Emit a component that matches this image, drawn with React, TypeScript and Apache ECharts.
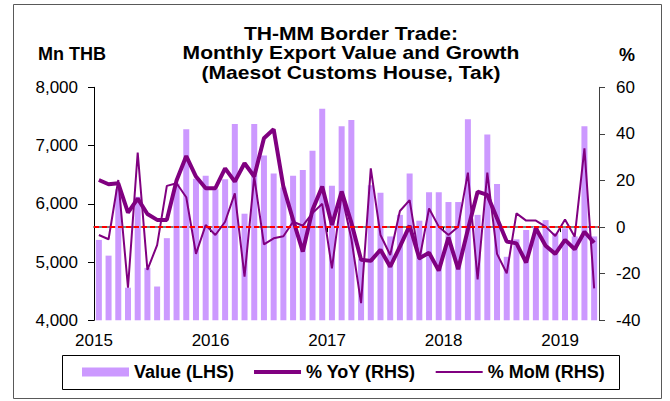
import React, { useEffect, useRef } from "react";
import * as echarts from "echarts";

const months: string[] = [];
for (let y = 2015; y <= 2019; y++) {
  for (let m = 1; m <= 12; m++) {
    if (y === 2019 && m > 4) break;
    months.push(`${y}-${String(m).padStart(2, "0")}`);
  }
}

const yearTicks = ["2015", "2016", "2017", "2018", "2019"];

const valueLHS = [
  5380, 5110, 6250, 4560, 6120, 4900, 4580, 5410, 6350, 7280, 6430, 6480,
  6250, 6420, 7370, 5830, 7370, 6830, 6520, 6280, 6480, 6580, 6910, 7630,
  6310, 7330, 7440, 5050, 6320, 6190, 5440, 5810, 6520, 5710, 6200, 6200,
  6030, 6030, 7450, 5810, 7190, 6340, 5090, 5390, 5550, 5610, 5720, 5500,
  5580, 5440, 7330, 5440,
];

const yoyRHS = [
  20.2, 18.4, 18.8, 6.2, 12.2, 5.6, 3.1, 3.1, 20.0, 30.5, 21.7, 16.7,
  16.7, 25.2, 19.5, 27.4, 21.7, 38.1, 42.0, 17.4, 3.1, -10.5, 7.4, 17.4,
  0.9, 15.3, 1.9, -14.0, -14.5, -9.7, -17.0, -8.4, 0.6, -13.4, -11.0, -18.7,
  -4.4, -18.1, -1.0, 15.2, 13.8, 3.8, -6.2, -7.0, -15.2, -0.5, -8.0, -11.5,
  -5.5, -9.5, -2.0, -6.7,
];

const momRHS = [
  -3.4, -5.2, 20.2, -26.0, 32.0, -18.4, -7.7, 17.7, 18.8, 12.8, -11.5, 0.9,
  -3.4, 2.3, 14.5, -21.3, 21.7, -7.4, -4.8, -3.9, 2.3, 0.6, 6.0, 10.0,
  -17.7, 14.0, -5.0, -32.6, 25.2, -3.4, -12.0, 6.9, 11.6, -14.1, 8.0, 0.2,
  -3.4, 0.2, 23.4, -22.4, 23.4, -11.5, -19.8, 5.9, 2.8, 2.8, 0.2, -3.8,
  3.3, -4.1, 33.8, -26.3,
];

const titleLines = [
  "TH-MM Border Trade:",
  "Monthly Export Value and Growth",
  "(Maesot Customs House, Tak)",
];

const FONT = "'Liberation Sans', Arial, sans-serif";

export default function App() {
  const ref = useRef<HTMLDivElement>(null);

  useEffect(() => {
    document.body.style.margin = "0";
    if (!ref.current) return;
    const chart = echarts.init(ref.current, null, { renderer: "svg" });

    const xy = (arr: number[]) => arr.map((v, i) => [i + 0.5, v]);

    const option: any = {
      animation: false,
      backgroundColor: "#ffffff",
      textStyle: { fontFamily: FONT },
      grid: {
        left: 94,
        right: 71,
        top: 87.3,
        bottom: 80.7,
        containLabel: false,
        outerBoundsMode: "none",
      },
      legend: {
        left: 82,
        top: 363,
        padding: 0,
        itemWidth: 47,
        itemHeight: 9,
        itemGap: 20,
        symbolKeepAspect: true,
        textStyle: {
          fontFamily: FONT,
          fontSize: 18,
          fontWeight: "bold",
          color: "#000",
        },
        data: [
          { name: "Value (LHS)", icon: "rect" },
          { name: "% YoY (RHS)", icon: "path://M0,0H47V4H0Z" },
          { name: "% MoM (RHS)", icon: "path://M0,0H47V2H0Z" },
        ],
      },
      xAxis: {
        type: "value",
        min: 0,
        max: months.length,
        interval: 12,
        splitLine: { show: false },
        axisLine: { show: true, lineStyle: { color: "#7f7f7f", width: 2 } },
        axisTick: {
          show: true,
          length: 5,
          lineStyle: { color: "#000", width: 1 },
        },
        axisLabel: {
          margin: 12,
          fontFamily: FONT,
          fontSize: 17,
          color: "#000",
          showMaxLabel: false,
          formatter: (v: number) => {
            const k = Math.round(v / 12);
            return Math.abs(v - k * 12) < 1e-6 && k < yearTicks.length && v < months.length
              ? yearTicks[k]
              : "";
          },
        },
      },
      yAxis: [
        {
          type: "value",
          min: 4000,
          max: 8000,
          interval: 1000,
          splitLine: { show: false },
          axisLine: { show: true, lineStyle: { color: "#000", width: 1 } },
          axisTick: { show: true, length: 6, lineStyle: { color: "#000" } },
          axisLabel: {
            margin: 16,
            fontFamily: FONT,
            fontSize: 17,
            color: "#000",
            formatter: (v: number) => v.toLocaleString("en-US"),
          },
        },
        {
          type: "value",
          min: -40,
          max: 60,
          interval: 20,
          position: "right",
          splitLine: { show: false },
          axisLine: { show: true, lineStyle: { color: "#404040", width: 1 } },
          axisTick: { show: true, length: 6, lineStyle: { color: "#404040" } },
          axisLabel: {
            margin: 17,
            fontFamily: FONT,
            fontSize: 17,
            color: "#000",
          },
        },
      ],
      series: [
        {
          name: "Value (LHS)",
          type: "bar",
          yAxisIndex: 0,
          barWidth: 6,
          itemStyle: { color: "#cc99ff" },
          data: xy(valueLHS),
          z: 1,
        },
        {
          name: "% YoY (RHS)",
          type: "line",
          yAxisIndex: 1,
          symbol: "none",
          lineStyle: { color: "#800080", width: 4 },
          itemStyle: { color: "#800080" },
          data: xy(yoyRHS),
          z: 3,
        },
        {
          name: "% MoM (RHS)",
          type: "line",
          yAxisIndex: 1,
          symbol: "none",
          lineStyle: { color: "#800080", width: 2 },
          itemStyle: { color: "#800080" },
          data: xy(momRHS),
          z: 4,
          markLine: {
            silent: true,
            symbol: "none",
            label: { show: false },
            lineStyle: { color: "#ff0000", width: 2, type: [5, 3] },
            data: [{ yAxis: 0 }],
            z: 5,
          },
        },
      ],
      graphic: [
        {
          type: "rect",
          silent: true,
          z: -10,
          shape: { x: 13.5, y: 4.5, width: 648, height: 394 },
          style: { fill: "none", stroke: "#595959", lineWidth: 1 },
        },
        {
          type: "rect",
          silent: true,
          shape: { x: 62.5, y: 355.5, width: 557, height: 34 },
          style: { fill: "none", stroke: "#000", lineWidth: 1 },
        },
        ...titleLines.map((t, i) => ({
          type: "text",
          silent: true,
          x: 351,
          y: 33.5 + i * 19.5,
          scaleX: 1.17,
          style: {
            text: t,
            fill: "#000",
            font: `bold 18px ${FONT}`,
            textAlign: "center",
            textVerticalAlign: "middle",
          },
        })),
        {
          type: "text",
          silent: true,
          x: 72,
          y: 53.5,
          style: {
            text: "Mn THB",
            fill: "#000",
            font: `bold 18px ${FONT}`,
            textAlign: "center",
            textVerticalAlign: "middle",
          },
        },
        {
          type: "text",
          silent: true,
          x: 627,
          y: 55,
          style: {
            text: "%",
            fill: "#000",
            font: `bold 18px ${FONT}`,
            textAlign: "center",
            textVerticalAlign: "middle",
          },
        },
      ],
    };

    chart.setOption(option);
    return () => chart.dispose();
  }, []);

  return <div ref={ref} style={{ width: 670, height: 401 }} />;
}
